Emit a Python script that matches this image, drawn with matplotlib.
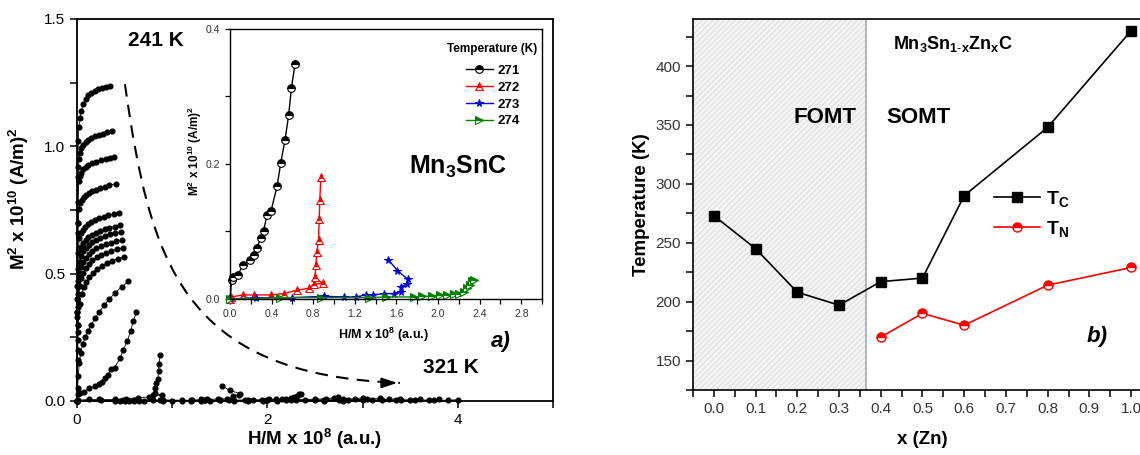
import matplotlib
matplotlib.use('Agg')
import matplotlib.pyplot as plt
from matplotlib.path import Path
from matplotlib.patches import PathPatch
from matplotlib.ticker import MultipleLocator, FormatStrFormatter

plt.rcParams['font.family'] = ['Liberation Sans', 'DejaVu Sans']
plt.rcParams['mathtext.fontset'] = 'custom'
plt.rcParams['mathtext.rm'] = 'Liberation Sans'
plt.rcParams['mathtext.bf'] = 'Liberation Sans:bold'
plt.rcParams['mathtext.it'] = 'Liberation Sans:italic'
plt.rcParams['hatch.linewidth'] = 0.6

# ---------------- panel a) : Arrott isotherms (241 K ... 321 K) ----------------
x_c1 = [0, 0.003, 0.006, 0.009, 0.013, 0.02, 0.03, 0.045, 0.065, 0.09, 0.12, 0.15, 0.185, 0.22, 0.26, 0.30, 0.347]
y_c1 = [0, 0.35, 0.70, 0.92, 1.02, 1.075, 1.11, 1.14, 1.165, 1.185, 1.20, 1.21, 1.218, 1.225, 1.23, 1.234, 1.237]
x_c2 = [0, 0.004, 0.008, 0.012, 0.02, 0.03, 0.045, 0.065, 0.09, 0.12, 0.15, 0.19, 0.23, 0.27, 0.32, 0.364]
y_c2 = [0, 0.35, 0.70, 0.88, 0.95, 0.975, 0.993, 1.007, 1.018, 1.026, 1.033, 1.04, 1.045, 1.05, 1.055, 1.059]
x_c3 = [0, 0.005, 0.01, 0.02, 0.03, 0.045, 0.065, 0.09, 0.12, 0.16, 0.2, 0.25, 0.3, 0.345, 0.389]
y_c3 = [0, 0.45, 0.78, 0.865, 0.882, 0.897, 0.909, 0.918, 0.926, 0.933, 0.939, 0.946, 0.951, 0.955, 0.958]
x_c4 = [0, 0.005, 0.01, 0.02, 0.035, 0.05, 0.07, 0.095, 0.125, 0.16, 0.2, 0.245, 0.29, 0.34, 0.406]
y_c4 = [0, 0.40, 0.66, 0.752, 0.776, 0.79, 0.80, 0.808, 0.816, 0.823, 0.83, 0.836, 0.842, 0.847, 0.853]
x_c5 = [0, 0.005, 0.012, 0.025, 0.04, 0.06, 0.085, 0.115, 0.15, 0.19, 0.235, 0.28, 0.33, 0.385, 0.441]
y_c5 = [0, 0.33, 0.58, 0.64, 0.658, 0.67, 0.682, 0.693, 0.703, 0.711, 0.718, 0.723, 0.729, 0.734, 0.739]
x_c6 = [0, 0.006, 0.014, 0.028, 0.045, 0.065, 0.09, 0.12, 0.155, 0.195, 0.24, 0.29, 0.34, 0.395, 0.452]
y_c6 = [0, 0.30, 0.52, 0.585, 0.606, 0.62, 0.632, 0.643, 0.652, 0.66, 0.667, 0.674, 0.68, 0.685, 0.69]
x_c7 = [0, 0.006, 0.014, 0.028, 0.045, 0.066, 0.091, 0.122, 0.157, 0.198, 0.244, 0.294, 0.346, 0.402, 0.46]
y_c7 = [0, 0.27, 0.47, 0.545, 0.57, 0.587, 0.60, 0.612, 0.623, 0.633, 0.641, 0.648, 0.654, 0.659, 0.663]
x_c8 = [0, 0.006, 0.014, 0.028, 0.046, 0.067, 0.093, 0.124, 0.16, 0.202, 0.249, 0.3, 0.354, 0.41, 0.47]
y_c8 = [0, 0.24, 0.42, 0.50, 0.528, 0.547, 0.562, 0.576, 0.588, 0.599, 0.608, 0.616, 0.622, 0.628, 0.632]
x_c9 = [0, 0.006, 0.014, 0.028, 0.047, 0.068, 0.095, 0.127, 0.163, 0.206, 0.254, 0.306, 0.361, 0.419, 0.48]
y_c9 = [0, 0.20, 0.37, 0.45, 0.482, 0.504, 0.522, 0.538, 0.552, 0.564, 0.574, 0.582, 0.589, 0.595, 0.60]
x_c10 = [0, 0.006, 0.014, 0.028, 0.048, 0.07, 0.097, 0.13, 0.167, 0.21, 0.259, 0.312, 0.368, 0.428, 0.49]
y_c10 = [0, 0.16, 0.30, 0.38, 0.42, 0.446, 0.468, 0.487, 0.503, 0.518, 0.53, 0.541, 0.55, 0.558, 0.565]
x_c11 = [0, 0.006, 0.014, 0.025, 0.04, 0.06, 0.085, 0.115, 0.15, 0.19, 0.235, 0.285, 0.34, 0.40, 0.47, 0.54]
y_c11 = [0, 0.05, 0.10, 0.15, 0.19, 0.222, 0.25, 0.275, 0.30, 0.325, 0.35, 0.375, 0.40, 0.425, 0.448, 0.47]

# isotherms close to Tc (also shown in the inset)
x_271 = [0, 0.015, 0.029, 0.076, 0.124, 0.188, 0.229, 0.258, 0.293, 0.322, 0.357, 0.395, 0.452, 0.488, 0.529, 0.564, 0.59, 0.625]
y_271 = [0, 0.028, 0.033, 0.036, 0.05, 0.058, 0.065, 0.075, 0.09, 0.101, 0.125, 0.131, 0.167, 0.202, 0.236, 0.273, 0.313, 0.348]
x_272 = [0, 0.013, 0.124, 0.229, 0.395, 0.516, 0.643, 0.762, 0.803, 0.889, 0.816, 0.825, 0.835, 0.851, 0.857, 0.863, 0.873]
y_272 = [0, 0.003, 0.006, 0.006, 0.006, 0.008, 0.013, 0.016, 0.022, 0.023, 0.032, 0.051, 0.07, 0.088, 0.118, 0.147, 0.18]
x_273 = [0, 0.25, 0.6, 0.905, 1.099, 1.211, 1.307, 1.37, 1.482, 1.577, 1.641, 1.641, 1.705, 1.711, 1.609, 1.523]
y_273 = [0, 0.002, 0.002, 0.004, 0.003, 0.003, 0.006, 0.006, 0.008, 0.008, 0.011, 0.018, 0.022, 0.029, 0.042, 0.058]
x_274 = [0, 0.48, 0.87, 1.34, 1.5, 1.77, 1.85, 1.94, 2.02, 2.09, 2.15, 2.2, 2.25, 2.28, 2.31, 2.33, 2.35]
y_274 = [0, 0.002, 0.002, 0.002, 0.003, 0.003, 0.004, 0.004, 0.006, 0.006, 0.008, 0.008, 0.011, 0.016, 0.021, 0.026, 0.028]

# paramagnetic isotherms (up to 321 K), lying on the axis
x_f1 = [0, 0.4, 0.8, 1.2, 1.6, 2.0, 2.3, 2.5, 2.62, 2.7, 2.74]
y_f1 = [0, 0.001, 0.002, 0.002, 0.003, 0.004, 0.005, 0.007, 0.009, 0.012, 0.015]
x_f2 = [0, 0.45, 0.9, 1.35, 1.8, 2.25, 2.6, 2.8, 2.92, 3.0]
y_f2 = [0, 0.001, 0.001, 0.002, 0.002, 0.003, 0.004, 0.006, 0.009, 0.012]
x_f3 = [0, 0.5, 1.0, 1.5, 2.0, 2.5, 2.85, 3.05, 3.18]
y_f3 = [0, 0.001, 0.001, 0.002, 0.002, 0.003, 0.004, 0.007, 0.010]
x_f4 = [0, 0.55, 1.1, 1.65, 2.2, 2.75, 3.1, 3.28, 3.39]
y_f4 = [0, 0.001, 0.001, 0.001, 0.002, 0.002, 0.004, 0.006, 0.009]
x_f5 = [0, 0.6, 1.2, 1.8, 2.4, 3.0, 3.35, 3.5, 3.6]
y_f5 = [0, 0.001, 0.001, 0.001, 0.002, 0.002, 0.003, 0.005, 0.007]
x_f6 = [0, 0.65, 1.3, 1.95, 2.6, 3.2, 3.55, 3.7, 3.8]
y_f6 = [0, 0.0, 0.001, 0.001, 0.001, 0.002, 0.003, 0.004, 0.006]
x_f7 = [0, 0.7, 1.4, 2.1, 2.8, 3.4, 3.75, 3.9, 4.0]
y_f7 = [0, 0.0, 0.001, 0.001, 0.001, 0.002, 0.002, 0.003, 0.005]

main_x = [x_c1, x_c2, x_c3, x_c4, x_c5, x_c6, x_c7, x_c8, x_c9, x_c10, x_c11,
          x_271, x_272, x_273, x_274, x_f1, x_f2, x_f3, x_f4, x_f5, x_f6, x_f7]
main_y = [y_c1, y_c2, y_c3, y_c4, y_c5, y_c6, y_c7, y_c8, y_c9, y_c10, y_c11,
          y_271, y_272, y_273, y_274, y_f1, y_f2, y_f3, y_f4, y_f5, y_f6, y_f7]

inset_labels = ['271', '272', '273', '274']
inset_x = [x_271, x_272, x_273, x_274]
inset_y = [y_271, y_272, y_273, y_274]

# dashed guide arrow from 241 K to 321 K (cubic bezier, data coords)
arrow_pts = [(0.504, 1.244), (0.767, 0.555), (1.082, 0.102), (3.393, 0.071)]

# ---------------- panel b) : transition temperatures ----------------
x_zn_c = [0.0, 0.1, 0.2, 0.3, 0.4, 0.5, 0.6, 0.8, 1.0]
t_c = [273, 245, 208, 197, 217, 220, 290, 348, 430]
x_zn_n = [0.4, 0.5, 0.6, 0.8, 1.0]
t_n = [170, 190, 180, 214, 229]
x_border = 0.365

fig = plt.figure(figsize=(11.4, 4.55), dpi=100)

# main panel
ax = fig.add_axes([0.0675, 0.1187, 0.4175, 0.8396])
for xs, ys in zip(main_x, main_y):
    ax.plot(xs, ys, '-o', color='black', lw=0.6, ms=3.4, clip_on=False, zorder=3)

verts = arrow_pts
codes = [Path.MOVETO, Path.CURVE4, Path.CURVE4, Path.CURVE4]
ax.add_patch(PathPatch(Path(verts, codes), fill=False, lw=1.5, ls=(0, (6, 4)),
                       edgecolor='black'))
ax.annotate('', xy=arrow_pts[3], xytext=(arrow_pts[3][0] - 0.12, arrow_pts[3][1]),
            arrowprops=dict(arrowstyle='-|>,head_length=0.9,head_width=0.3',
                            color='black', lw=1.5, mutation_scale=10))

ax.set_xlim(0, 5)
ax.set_ylim(0, 1.5)
ax.xaxis.set_major_locator(MultipleLocator(2))
ax.xaxis.set_minor_locator(MultipleLocator(1))
ax.yaxis.set_major_locator(MultipleLocator(0.5))
ax.yaxis.set_minor_locator(MultipleLocator(0.25))
ax.yaxis.set_major_formatter(FormatStrFormatter('%.1f'))
ax.tick_params(which='both', direction='out', length=5, width=1.1, labelsize=11)
for s in ax.spines.values():
    s.set_linewidth(1.3)
ax.set_xlabel(r'H/M x 10$^\mathbf{8}$ (a.u.)', fontsize=13.5, fontweight='bold')
ax.set_ylabel(r'M$^\mathbf{2}$ x 10$^\mathbf{10}$ (A/m)$^\mathbf{2}$', fontsize=13.5, fontweight='bold')
ax.xaxis.set_label_coords(0.5, -0.068)
ax.yaxis.set_label_coords(-0.097, 0.53)
ax.text(0.825, 1.415, '241 K', fontsize=15, fontweight='bold', ha='center', va='center')
ax.text(3.93, 0.13, '321 K', fontsize=15, fontweight='bold', ha='center', va='center')
ax.text(4.45, 0.232, 'a)', fontsize=16, fontweight='bold', style='italic', ha='center', va='center')

# inset
axin = fig.add_axes([0.2018, 0.3429, 0.2737, 0.5934])
styles = [dict(color='black', marker='o', mfc='black', mfcalt='white', fillstyle='top'),
          dict(color='#ff0000', marker='^', mfc='#ff0000', mfcalt='white', fillstyle='top'),
          dict(color='#0000e0', marker='*', mfc='#0000e0', fillstyle='full'),
          dict(color='#008000', marker='>', mfc='#008000', mfcalt='white', fillstyle='top')]
for xs, ys, lab, st in zip(inset_x, inset_y, inset_labels, styles):
    axin.plot(xs, ys, lw=1.0, ms=5.5, mew=0.8, label=lab, clip_on=False, **st)
axin.set_xlim(0, 3.0)
axin.set_ylim(0, 0.4)
axin.xaxis.set_major_locator(MultipleLocator(0.4))
axin.xaxis.set_minor_locator(MultipleLocator(0.2))
axin.yaxis.set_major_locator(MultipleLocator(0.2))
axin.yaxis.set_minor_locator(MultipleLocator(0.1))
axin.xaxis.set_major_formatter(FormatStrFormatter('%.1f'))
axin.yaxis.set_major_formatter(FormatStrFormatter('%.1f'))
axin.tick_params(which='both', direction='out', length=3.5, width=0.9, labelsize=7.5,
                 labelcolor='#333333')
for s in axin.spines.values():
    s.set_linewidth(1.0)
axin.set_xlabel(r'H/M x 10$^\mathbf{8}$ (a.u.)', fontsize=9, fontweight='bold')
axin.set_ylabel(r'M$^\mathbf{2}$ x 10$^\mathbf{10}$ (A/m)$^\mathbf{2}$', fontsize=8.5, fontweight='bold')
axin.xaxis.set_label_coords(0.49, -0.1)
axin.yaxis.set_label_coords(-0.085, 0.55)
axin.legend(loc='upper left', bbox_to_anchor=(0.755, 0.868), frameon=False, borderpad=0,
            borderaxespad=0, handlelength=2.1, handletextpad=0.3, labelspacing=0.35,
            prop={'weight': 'bold', 'size': 9.5})
axin.text(0.84, 0.926, 'Temperature (K)', transform=axin.transAxes, fontsize=8.5,
          fontweight='bold', ha='center', va='center')
axin.text(2.19, 0.196, r'Mn$_\mathbf{3}$SnC', fontsize=18, fontweight='bold', ha='center', va='center')

# panel b)
ax2 = fig.add_axes([0.6079, 0.1429, 0.4026, 0.8154])
ax2.axvspan(-0.05, x_border, facecolor='#f4f4f4', edgecolor='#d9d9d9', hatch='//////', lw=0, zorder=0)
ax2.axvline(x_border, color='#aaaaaa', lw=1.2, zorder=1)
ax2.plot(x_zn_c, t_c, '-s', color='black', ms=6.5, lw=1.2, label=r'T$_\mathbf{C}$', zorder=3)
ax2.plot(x_zn_n, t_n, '-o', color='#ff0000', mfc='#ff0000', mfcalt='white', fillstyle='top',
         ms=6.5, lw=1.2, label=r'T$_\mathbf{N}$', zorder=3)
ax2.set_xlim(-0.05, 1.05)
ax2.set_ylim(125, 440)
ax2.xaxis.set_major_locator(MultipleLocator(0.1))
ax2.xaxis.set_minor_locator(MultipleLocator(0.05))
ax2.yaxis.set_major_locator(MultipleLocator(50))
ax2.yaxis.set_minor_locator(MultipleLocator(25))
ax2.xaxis.set_major_formatter(FormatStrFormatter('%.1f'))
ax2.tick_params(which='both', direction='out', length=5, width=1.1, labelsize=11,
                labelcolor='#333333')
for s in ax2.spines.values():
    s.set_linewidth(1.2)
ax2.set_xlabel('x (Zn)', fontsize=13.5, fontweight='bold')
ax2.set_ylabel('Temperature (K)', fontsize=13.5, fontweight='bold')
ax2.xaxis.set_label_coords(0.5, -0.11)
ax2.yaxis.set_label_coords(-0.094, 0.5)
ax2.legend(loc='center left', bbox_to_anchor=(0.655, 0.475), frameon=False, borderpad=0,
           borderaxespad=0, handlelength=2.4, handletextpad=0.3, labelspacing=0.5,
           prop={'weight': 'bold', 'size': 14})
ax2.text(0.266, 356, 'FOMT', fontsize=16, fontweight='bold', ha='center', va='center')
ax2.text(0.49, 356, 'SOMT', fontsize=16, fontweight='bold', ha='center', va='center')
ax2.text(0.43, 418.6, r'Mn$_\mathbf{3}$Sn$_\mathbf{1\text{-}x}$Zn$_\mathbf{x}$C', fontsize=13,
         fontweight='bold', ha='left', va='center')
ax2.text(0.919, 170.3, 'b)', fontsize=16, fontweight='bold', style='italic', ha='center', va='center')

fig.savefig('out.png', dpi=100)
